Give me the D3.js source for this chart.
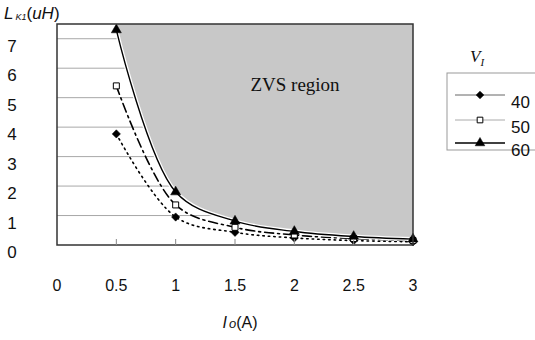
<!DOCTYPE html>
<html>
<head>
<meta charset="utf-8">
<script src="https://cdn.jsdelivr.net/npm/d3@7"></script>
<style>
  body { margin: 0; background: #fff; }
  svg { display: block; }
  text { font-family: "Liberation Sans", Arial, sans-serif; fill: #111; }
</style>
</head>
<body>
<figure id="chart" style="margin:0"></figure>
<script>
// chart data
const currents = [0.5, 1, 1.5, 2, 2.5, 3];
const v40 = [3.77, 0.95, 0.43, 0.24, 0.15, 0.11];
const v50 = [5.4, 1.36, 0.6, 0.34, 0.22, 0.15];
const v60 = [7.3, 1.8, 0.81, 0.46, 0.29, 0.2];
const xTicks = [0, 0.5, 1, 1.5, 2, 2.5, 3];
const yTicks = [0, 1, 2, 3, 4, 5, 6, 7];
const seriesNames = ["40", "50", "60"];

const W = 535, H = 340;
const plot = { left: 57, right: 413, top: 24, bottom: 245 };

const svg = d3.select("#chart").append("svg")
  .attr("width", W).attr("height", H);

const x = d3.scaleLinear().domain([0, 3]).range([plot.left, plot.right]);
const y = d3.scaleLinear().domain([0, 7.5]).range([plot.bottom, plot.top]);

// gridlines
svg.append("g").selectAll("line")
  .data(yTicks.filter(d => d > 0))
  .enter().append("line")
    .attr("x1", plot.left).attr("x2", plot.right)
    .attr("y1", d => y(d)).attr("y2", d => y(d))
    .attr("stroke", "#a8a8a8").attr("stroke-width", 1);

// ZVS region: above the 60 V curve
const curve = d3.curveCatmullRom.alpha(0.5);
const pts60 = currents.map((c, i) => [c, v60[i]]);
const area = d3.area()
  .x(d => x(d[0]))
  .y0(y(7.5))
  .y1(d => y(d[1]))
  .curve(curve);
svg.append("path")
  .datum(pts60)
  .attr("d", area)
  .attr("fill", "#c8c8c8");

svg.append("text")
  .attr("x", 295).attr("y", 91)
  .style("font-family", "'Liberation Serif', 'Times New Roman', serif")
  .style("font-size", "19px")
  .attr("text-anchor", "middle")
  .text("ZVS region");

// series lines
const line = d3.line().x(d => x(d[0])).y(d => y(d[1])).curve(curve);
const series = [
  { name: "40", vals: v40, dash: "1.5,4", shape: d3.symbolSquare, rot: 45, size: 34, fill: "#000" },
  { name: "50", vals: v50, dash: "9,4,2,4", shape: d3.symbolSquare, rot: 0, size: 36, fill: "#fff" },
  { name: "60", vals: v60, dash: null, shape: d3.symbolTriangle, rot: 0, size: 44, fill: "#000" }
];

series.forEach(s => {
  const pts = currents.map((c, i) => [c, s.vals[i]]);
  if (!s.dash) {
    svg.append("path").datum(pts).attr("d", line)
      .attr("fill", "none").attr("stroke", "#fff").attr("stroke-width", 4);
  }
  svg.append("path").datum(pts).attr("d", line)
    .attr("fill", "none").attr("stroke", "#000")
    .attr("stroke-width", s.dash ? 1.6 : 1.4)
    .attr("stroke-dasharray", s.dash)
    .attr("stroke-linecap", "round");
});

// markers
series.forEach(s => {
  svg.append("g").selectAll("path")
    .data(currents.map((c, i) => [c, s.vals[i]]))
    .enter().append("path")
      .attr("transform", d => `translate(${x(d[0])},${y(d[1])}) rotate(${s.rot})`)
      .attr("d", d3.symbol().type(s.shape).size(s.size))
      .attr("fill", s.fill)
      .attr("stroke", "#000")
      .attr("stroke-width", s.fill === "#fff" ? 1 : 0.5);
});

// plot frame
svg.append("rect")
  .attr("x", plot.left).attr("y", plot.top)
  .attr("width", plot.right - plot.left).attr("height", plot.bottom - plot.top)
  .attr("fill", "none").attr("stroke", "#333").attr("stroke-width", 1.5);

// x ticks (inside) and labels
svg.append("g").selectAll("line")
  .data(xTicks.slice(1, -1))
  .enter().append("line")
    .attr("x1", d => x(d)).attr("x2", d => x(d))
    .attr("y1", plot.bottom).attr("y2", plot.bottom - 6)
    .attr("stroke", "#888");

svg.append("g").selectAll("text")
  .data(xTicks)
  .enter().append("text")
    .attr("x", d => x(d)).attr("y", 291)
    .attr("text-anchor", "middle")
    .style("font-size", "16px")
    .text(d => d);

svg.append("g").selectAll("text")
  .data(yTicks)
  .enter().append("text")
    .attr("x", 12).attr("y", d => y(d) + 13)
    .attr("text-anchor", "middle")
    .style("font-size", "17px")
    .text(d => d);

// axis titles
const xt = svg.append("text").attr("x", 240).attr("y", 328)
  .attr("text-anchor", "middle").style("font-size", "16px");
xt.append("tspan").style("font-style", "italic").text("I");
xt.append("tspan").style("font-style", "italic").style("font-size", "13px").attr("dx", 2).text("o");
xt.append("tspan").text("(A)");

const yt = svg.append("text").attr("x", 4).attr("y", 19).style("font-size", "17px");
yt.append("tspan").style("font-style", "italic").text("L");
yt.append("tspan").style("font-style", "italic").style("font-size", "9px").attr("dx", 2).attr("dy", 1).text("K1");
yt.append("tspan").attr("dy", -1).text("(");
yt.append("tspan").style("font-style", "italic").text("uH");
yt.append("tspan").text(")");

// legend
const lg = svg.append("g");
lg.append("text").attr("x", 470).attr("y", 62)
  .style("font-family", "'Liberation Serif', 'Times New Roman', serif")
  .style("font-style", "italic").style("font-size", "17px")
  .text("V")
  .append("tspan").attr("dy", 4).style("font-size", "11px").text("I");

lg.append("rect")
  .attr("x", 447).attr("y", 73).attr("width", 100).attr("height", 77)
  .attr("fill", "#fff").attr("stroke", "#999");

const legendY = [95, 120, 143];
series.forEach((s, i) => {
  const ly = legendY[i];
  lg.append("line")
    .attr("x1", 455).attr("x2", 505).attr("y1", ly).attr("y2", ly)
    .attr("stroke", i === 1 ? "#aaa" : (i === 0 ? "#666" : "#000"))
    .attr("stroke-width", i === 2 ? 1.6 : 1);
  lg.append("path")
    .attr("transform", `translate(480,${ly}) rotate(${s.rot})`)
    .attr("d", d3.symbol().type(s.shape).size(s.size - 4))
    .attr("fill", s.fill).attr("stroke", "#000").attr("stroke-width", s.fill === "#fff" ? 1 : 0.5);
  lg.append("text").attr("x", 511).attr("y", ly + 13)
    .style("font-size", "17px").text(seriesNames[i]);
});
</script>
</body>
</html>
